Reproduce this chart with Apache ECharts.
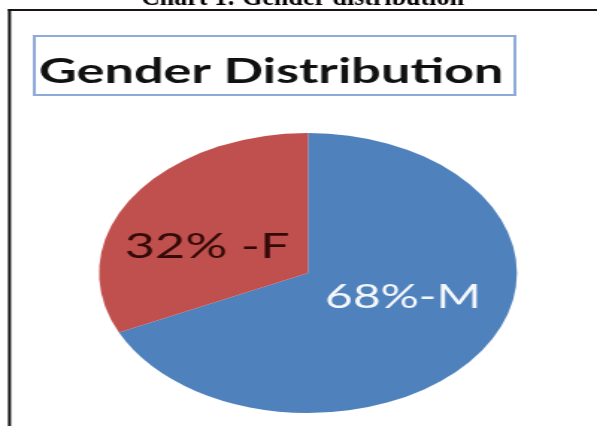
<!DOCTYPE html>
<html>
<head>
<meta charset="utf-8">
<script src="https://cdn.jsdelivr.net/npm/echarts@6/dist/echarts.min.js"></script>
<style>
html,body{margin:0;padding:0;background:#fff;overflow:hidden;width:597px;height:426px;}
#c{width:400px;height:426px;transform:scaleX(1.4925);transform-origin:0 0;}
</style>
</head>
<body>
<div id="c"></div>
<script>
// ---- data ----
const caption = 'Chart 1: Gender distribution';
const chartTitle = 'Gender Distribution';
const categories = ['M', 'F'];
const values = [68, 32];
const labelSeparators = ['-', ' -'];
const sliceColors = ['#4f81bd', '#c0504d'];

const S = 597 / 400; // horizontal stretch of the reference picture

const chart = echarts.init(document.getElementById('c'), null, {renderer: 'canvas'});

const labelShift = [[2, -14], [-6, 13]];

const pieData = categories.map((name, i) => ({
  name: name,
  value: values[i],
  itemStyle: {color: sliceColors[i]},
  label: i === 0
    ? {color: '#f4f7fb', fontSize: 32}
    : {color: '#330a08', fontSize: 35}
}));

chart.setOption({
  backgroundColor: '#ffffff',
  animation: false,
  title: {
    text: chartTitle,
    left: 23,
    top: 36,
    borderColor: '#8eaad8',
    borderWidth: 2,
    padding: [18, 8, 6, 3],
    textStyle: {
      fontFamily: 'Lato',
      fontWeight: 'bold',
      fontSize: 35,
      color: '#111111'
    }
  },
  graphic: [
    {
      type: 'text',
      x: 302.5 / S,
      y: -2,
      scaleX: 1 / S,
      style: {
        text: caption,
        fontFamily: 'Liberation Serif',
        fontWeight: 'bold',
        fontSize: 26,
        fill: '#000000',
        textAlign: 'center',
        textVerticalAlign: 'middle'
      }
    },
    {
      type: 'line',
      shape: {x1: 8 / S, y1: 10, x2: 400, y2: 10},
      style: {stroke: '#1a1412', lineWidth: 2}
    },
    {
      type: 'rect',
      shape: {x: 8 / S, y: 9, width: 3 / S, height: 417},
      style: {fill: '#111111'}
    }
  ],
  series: [{
    type: 'pie',
    center: [308 / S, 273],
    radius: 140,
    startAngle: 90,
    clockwise: true,
    silent: true,
    emphasis: {disabled: true},
    label: {
      show: true,
      position: 'inside',
      fontFamily: 'Lato',
      formatter: p => p.value + '%' + labelSeparators[p.dataIndex] + p.name
    },
    labelLayout: p => ({dx: labelShift[p.dataIndex][0], dy: labelShift[p.dataIndex][1]}),
    labelLine: {show: false},
    data: pieData
  }]
});
</script>
</body>
</html>
